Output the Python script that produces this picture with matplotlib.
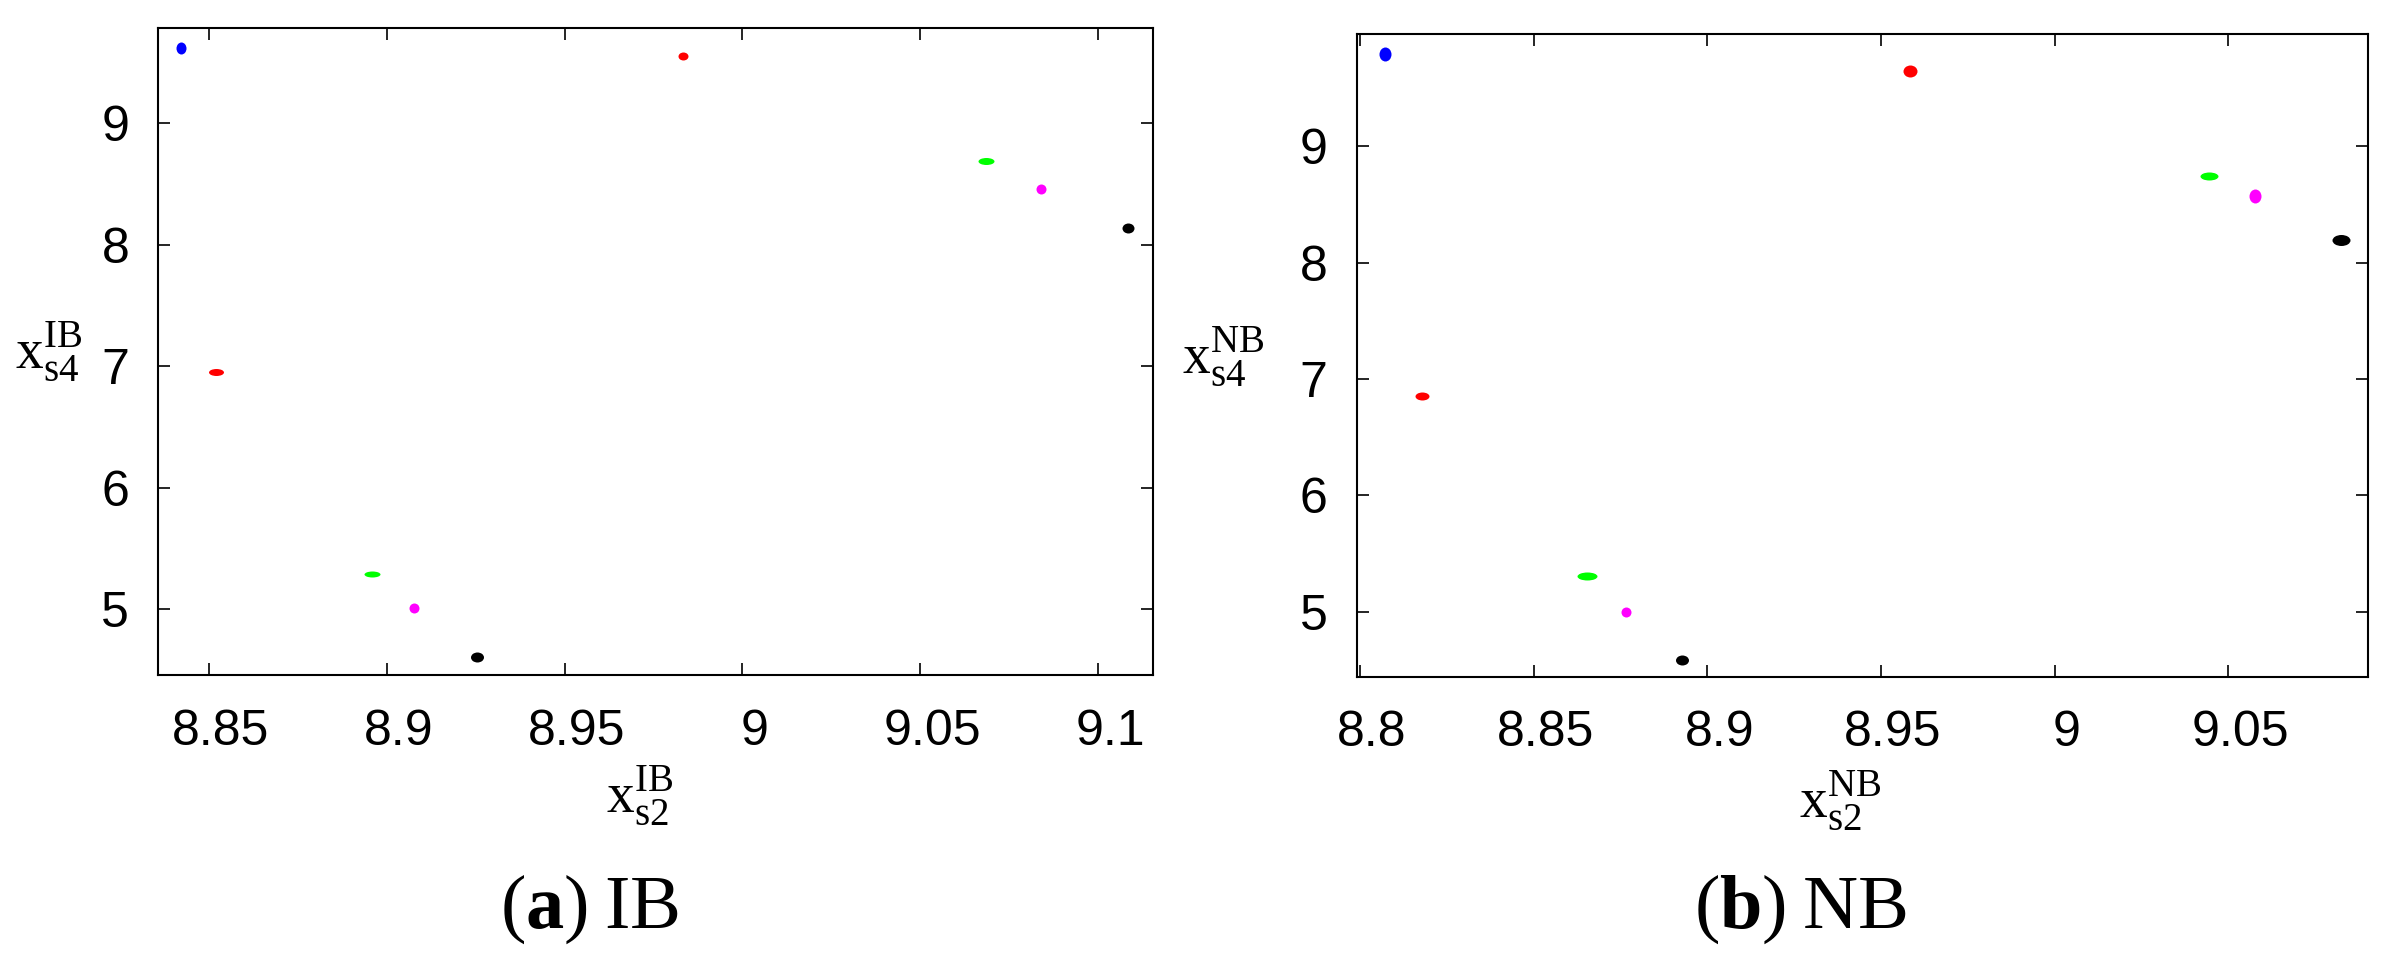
import numpy as np
import matplotlib
matplotlib.use("Agg")
import matplotlib.pyplot as plt
from matplotlib.path import Path
from matplotlib.transforms import Affine2D, ScaledTranslation
from matplotlib.ticker import FuncFormatter

plt.rcParams['font.family'] = ['Liberation Sans', 'DejaVu Sans']
plt.rcParams['mathtext.fontset'] = 'custom'
plt.rcParams['mathtext.rm'] = 'Liberation Serif'
plt.rcParams['mathtext.it'] = 'Liberation Serif:italic'
plt.rcParams['mathtext.bf'] = 'Liberation Serif:bold'

# cluster colours (same order in both panels)
colors = ['blue', 'red', 'red', 'lime', 'lime', 'magenta', 'magenta', 'black', 'black']

# (a) IB
ib_x = [8.8422, 8.9832, 8.8519, 9.0685, 8.8959, 9.0840, 8.9078, 9.1084, 8.9254]
ib_y = [9.619, 9.558, 6.954, 8.690, 5.294, 8.457, 5.015, 8.137, 4.609]

# (b) NB
nb_x = [8.8073, 8.9585, 8.8178, 9.0443, 8.8654, 9.0577, 8.8766, 9.0823, 8.8926]
nb_y = [9.789, 9.641, 6.857, 8.746, 5.307, 8.571, 5.000, 8.195, 4.587]

ib_xticks = [8.85, 8.9, 8.95, 9.0, 9.05, 9.1]
nb_xticks = [8.8, 8.85, 8.9, 8.95, 9.0, 9.05]
yticks = [5, 6, 7, 8, 9]

# blob shapes in pixels (w, h)
ib_shape = [(10, 12), (10, 8), (15, 7), (16, 7), (16, 6), (10, 10), (10, 10), (12, 10), (13, 10)]
nb_shape = [(12, 14), (14, 12), (14, 8), (18, 8), (20, 8), (12, 14), (10, 10), (18, 11), (13, 10)]

W, H = 2389, 967
fig = plt.figure(figsize=(W / 100, H / 100), dpi=100)


def blob(w, h):
    m = max(w, h)
    p = Path.unit_circle().transformed(Affine2D().scale(w / m, h / m))
    return p, m / 1.389


def panel(rect, xs, ys, shapes, xlim, ylim, xticks):
    ax = fig.add_axes(rect)
    for x, y, c, (w, h) in zip(xs, ys, colors, shapes):
        mk, ms = blob(w, h)
        ax.plot([x], [y], linestyle='none', marker=mk, markersize=ms,
                color=c, markeredgewidth=0)
    ax.set_xlim(*xlim)
    ax.set_ylim(*ylim)
    ax.set_xticks(xticks)
    ax.set_yticks(yticks)
    ax.xaxis.set_major_formatter(FuncFormatter(lambda v, p: '%g' % round(v, 2)))
    ax.tick_params(direction='in', length=8.5, width=1.2, top=True, right=True,
                   labelsize=36)
    ax.tick_params(axis='x', pad=24)
    ax.tick_params(axis='y', pad=21)
    # tick labels sit a little right of their ticks in the original
    shift = ScaledTranslation(12 / 100, 0, fig.dpi_scale_trans)
    for lbl in ax.get_xticklabels():
        lbl.set_transform(lbl.get_transform() + shift)
    for s in ax.spines.values():
        s.set_linewidth(1.5)
    return ax


panel([158.4 / W, 1 - 675.3 / H, 994.1 / W, 647.5 / H], ib_x, ib_y, ib_shape,
      (8.8358, 9.1153), (4.457, 9.787), ib_xticks)
panel([1356.7 / W, 1 - 677.1 / H, 1011.7 / W, 643.2 / H], nb_x, nb_y, nb_shape,
      (8.7991, 9.0903), (4.438, 9.964), nb_xticks)


def ftext(px, py, s, **kw):
    fig.text(px / W, 1 - py / H, s, **kw)


lab = dict(fontsize=40, va='baseline')
ftext(640, 812, r'$\mathrm{x}_{\mathrm{s2}}^{\mathrm{IB}}$', ha='center', **lab)
ftext(15, 368, r'$\mathrm{x}_{\mathrm{s4}}^{\mathrm{IB}}$', ha='left', **lab)
ftext(1840, 817, r'$\mathrm{x}_{\mathrm{s2}}^{\mathrm{NB}}$', ha='center', **lab)
ftext(1182, 373, r'$\mathrm{x}_{\mathrm{s4}}^{\mathrm{NB}}$', ha='left', **lab)

cap = dict(fontsize=55, va='baseline', ha='center')
ftext(590, 928, r'$(\mathbf{a})\;\mathrm{IB}$', **cap)
ftext(1801, 928, r'$(\mathbf{b})\;\mathrm{NB}$', **cap)

fig.savefig('out.png', dpi=100)
